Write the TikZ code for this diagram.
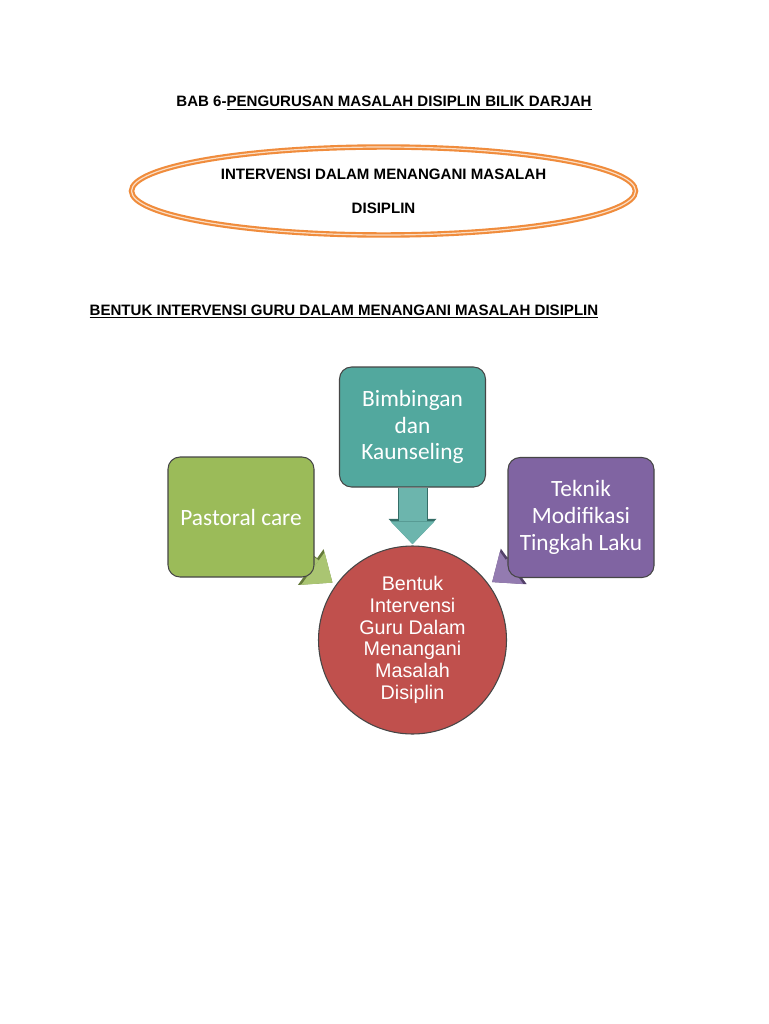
\documentclass[tikz,border=0pt]{standalone}
\usepackage{fontspec}
\setmainfont{Liberation Sans}
\newfontfamily\boxfont{Carlito}
\definecolor{mOrange}{RGB}{240,140,60}
\definecolor{mGreen}{RGB}{155,187,89}
\definecolor{mTeal}{RGB}{82,168,158}
\definecolor{mPurple}{RGB}{128,100,162}
\definecolor{mRed}{RGB}{192,80,77}
\definecolor{mEdge}{RGB}{70,70,70}
\usetikzlibrary{arrows.meta,positioning,shapes.geometric,backgrounds}

\begin{document}
\begin{tikzpicture}[x=0.75pt, y=-0.75pt,
    heading/.style={font=\bfseries\fontsize{11.3}{13}\selectfont, anchor=base, inner sep=0pt},
    panel/.style={fill=#1, draw=mEdge, line width=0.8pt, rounded corners=9pt,
      minimum width=109.5pt, minimum height=90pt, inner sep=2pt, align=center,
      text=white, font=\boxfont\fontsize{17.5}{20}\selectfont},
    downarr/.style={draw=#1!85!white, line width=21pt, shorten >=1pt,
      -{Triangle[width=33pt,length=17pt,line width=0pt]},
      preaction={draw=#1!65!black, line width=22.5pt,
        -{Triangle[width=36pt,length=19pt,line width=0pt]}}},
    diagarr/.style={draw=#1!85!white, line width=15pt, shorten >=3pt,
      -{Triangle[width=30pt,length=18pt,line width=0pt]},
      preaction={draw=#1!65!black, line width=16.5pt,
        -{Triangle[width=33pt,length=20pt,line width=0pt]}}}]
    \useasboundingbox (0,0) rectangle (768,1024);
    % Headings
    \node[heading] (bab) at (384,107) {BAB 6-\underline{PENGURUSAN MASALAH DISIPLIN BILIK DARJAH}};
    \node[ellipse, draw=mOrange, line width=1.6pt, double=mOrange!30, double distance=0.9pt,
      minimum width=378pt, minimum height=66pt, align=center,
      font=\bfseries\fontsize{11.3}{25.5}\selectfont] (iv) at (383.5,191) {INTERVENSI DALAM MENANGANI MASALAH\\DISIPLIN};
    \node[heading] (bentuk) at (344,315) {\underline{BENTUK INTERVENSI GURU DALAM MENANGANI MASALAH DISIPLIN}};
    % Boxes
    \node[panel=mTeal] (bk) at (412.5,427) {Bimbingan\\dan\\Kaunseling};
    \node[panel=mGreen] (pc) at (241,517) {Pastoral care};
    \node[panel=mPurple] (tm) at (581,517.5) {Teknik\\Modifikasi\\Tingkah Laku};
    % Centre
    \node[circle, fill=mRed, draw=mEdge, line width=0.8pt, minimum size=141pt, inner sep=0pt,
      align=center, text=white, font=\fontsize{14.8}{16.3}\selectfont] (cn) at (412.5,640)
      {Bentuk\\Intervensi\\Guru Dalam\\Menangani\\Masalah\\Disiplin};
    % Arrows
    \begin{pgfonlayer}{background}
      \fill[white] (0,0) rectangle (768,1024);
      \draw[downarr=mTeal] (bk.south) -- (cn.north);
      \draw[diagarr=mGreen] (pc.center) -- (cn);
      \draw[diagarr=mPurple] (tm.center) -- (cn);
    \end{pgfonlayer}
  \end{tikzpicture}
\end{document}
